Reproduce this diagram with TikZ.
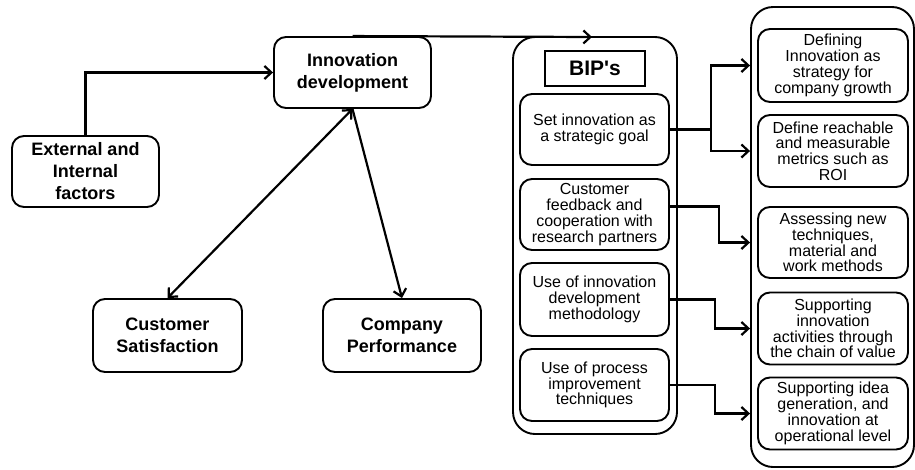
\documentclass[tikz,border=0pt]{standalone}
\usepackage{fontspec}
\setmainfont{Liberation Sans}
\newfontfamily\titlefont{Liberation Sans}
\usetikzlibrary{arrows.meta}

\begin{document}
\begin{tikzpicture}[x=1pt, y=-1pt, >={Straight Barb[length=7pt,width=13pt]},
            every node/.style={draw, line width=1.9pt, rounded corners=12pt, align=center, inner sep=0pt},
            main box/.style={minimum width=150pt, minimum height=71pt, font=\fontsize{18}{22}\selectfont\bfseries},
            item box/.style={minimum width=149pt, minimum height=72pt, font=\fontsize{16}{15.8}\selectfont}]
            \tikzset{frame box/.style={rounded corners=22pt, minimum width=164pt},
                     title box/.style={sharp corners, minimum width=100pt, minimum height=35pt, font=\fontsize{21}{24}\selectfont\bfseries\titlefont},
                     link/.style={draw=black, line width=2.2pt, ->}}
            \useasboundingbox (0,0) rectangle (915,469);
            % the two columns
            \node [frame box, minimum height=397pt] (bip) at (595,235.5) {};
            \node [frame box, minimum width=163pt, minimum height=460pt] (goals) at (832.5,237) {};
            \node [title box] (biptitle) at (595,68.5) {BIP's};
            % left part
            \node [main box, minimum width=147pt] (ext) at (85.5,171.5) {External and\\Internal\\factors};
            \node [main box, minimum width=157pt] (innov) at (352.5,72.5) {Innovation\\development};
            \node [main box, minimum width=149pt, minimum height=73pt] (cust) at (167.5,335.5) {Customer\\Satisfaction};
            \node [main box, minimum width=158pt, minimum height=73pt] (comp) at (402,335.5) {Company\\Performance};
            \coordinate (bipin) at (592,37);
            % practices
            \node [item box, minimum height=71pt] (b1) at (594.5,129.5) {Set innovation as\\a strategic goal};
            \node [item box, minimum height=71pt] (b2) at (594.5,214.5) {Customer\\feedback and\\cooperation with\\research partners};
            \node [item box, minimum height=73pt] (b3) at (594.5,299.5) {Use of innovation\\development\\methodology};
            \node [item box] (b4) at (594.5,385) {Use of process\\improvement\\techniques};
            % goals
            \node [item box, minimum width=150pt, minimum height=73pt] (r1) at (833,65.5) {Defining\\Innovation as\\strategy for\\company growth};
            \node [item box, minimum width=150pt] (r2) at (833,151) {Define reachable\\and measurable\\metrics such as\\ROI};
            \node [item box, minimum width=150pt, minimum height=71pt] (r3) at (833,242.5) {Assessing new\\techniques,\\material and\\work methods};
            \node [item box, minimum width=150pt] (r4) at (833,328.5) {Supporting\\innovation\\activities through\\the chain of value};
            \node [item box, minimum width=150pt] (r5) at (833,413.5) {Supporting idea\\generation, and\\innovation at\\operational level};
            \draw [link] (ext.north) |- (innov.west);
            \draw [link, <->] (cust.north) -- (innov.south);
            \draw [link] (innov.south) -- (comp.north);
            \draw [link] (innov.north) -- (bipin);
            \draw [link] (b1.east) -- ++(41,0) |- (r1 -| goals.west);
            \draw [link] (b1.east) -- ++(41,0) |- (r2 -| goals.west);
            \draw [link] ([yshift=8pt]b2.east) -- ++(49,0) |- (r3 -| goals.west);
            \draw [link] (b3.east) -- ++(45,0) |- (r4 -| goals.west);
            \draw [link] (b4.east) -- ++(45,0) |- (r5 -| goals.west);
        \end{tikzpicture}
\end{document}
